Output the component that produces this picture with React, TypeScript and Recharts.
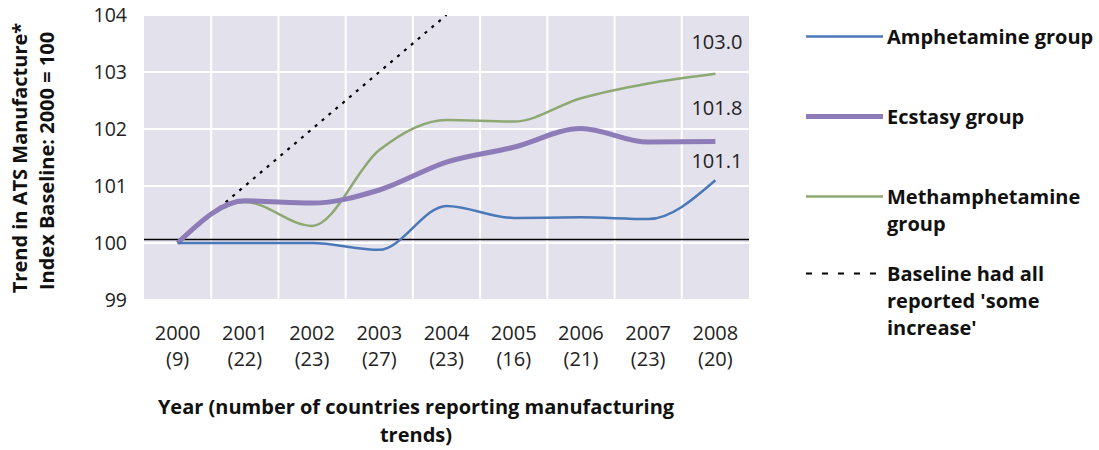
import { LineChart, Line, XAxis, YAxis, CartesianGrid, ReferenceLine, LabelList } from "recharts";

const years = ["2000", "2001", "2002", "2003", "2004", "2005", "2006", "2007", "2008"];
const countries = ["9", "22", "23", "27", "23", "16", "21", "23", "20"];
const amphetamine = [100, 100.0, 100.0, 99.88, 100.65, 100.44, 100.45, 100.42, 101.1];
const ecstasy = [100, 100.74, 100.7, 100.93, 101.42, 101.68, 102.01, 101.77, 101.78];
const methamphetamine = [100, 100.72, 100.3, 101.63, 102.16, 102.13, 102.54, 102.8, 102.97];
const baseline = [100, 101, 102, 103, 104, null, null, null, null];
const endLabels = ["101.1", "101.8", "103.0"];
const yTicks = [99, 100, 101, 102, 103, 104];

const data = years.map((y, i) => ({
  year: y,
  count: countries[i],
  amphetamine: amphetamine[i],
  ecstasy: ecstasy[i],
  methamphetamine: methamphetamine[i],
  baseline: baseline[i],
}));

const FONT = "'Open Sans', 'Noto Sans', sans-serif";
const BG = "#e3e1ec";

const legendItems = [
  { lines: ["Amphetamine group"], color: "#4a78b8", width: 2.5, dash: undefined, top: 23 },
  { lines: ["Ecstasy group"], color: "#8e7cb8", width: 5, dash: undefined, top: 103 },
  { lines: ["Methamphetamine", "group"], color: "#8ea872", width: 2.5, dash: undefined, top: 183 },
  { lines: ["Baseline had all", "reported 'some", "increase'"], color: "#000", width: 2, dash: "6 10", top: 260 },
];

function XTick(props: any) {
  const { x, y, payload, index } = props;
  return (
    <text x={x} y={y} textAnchor="middle" fontFamily={FONT} fontSize={20} fill="#222">
      <tspan x={x} dy={32}>{payload.value}</tspan>
      <tspan x={x} dy={26}>({countries[index]})</tspan>
    </text>
  );
}

function endLabel(text: string, dy: number) {
  return (props: any) => {
    const { x, y, index } = props;
    if (index !== years.length - 1) return null;
    return (
      <text x={x + 27} y={y + dy} textAnchor="end" fontFamily={FONT} fontSize={20} fill="#222">
        {text}
      </text>
    );
  };
}

function ChartLegend() {
  return (
    <div style={{ position: "absolute", left: 806, top: 0, width: 293, height: 360 }}>
      {legendItems.map((it) => (
        <div key={it.lines[0]} style={{ position: "absolute", left: 0, top: it.top, display: "flex" }}>
          <svg width={80} height={27} style={{ flex: "none" }}>
            <line x1={0} x2={77} y1={13.5} y2={13.5} stroke={it.color} strokeWidth={it.width} strokeDasharray={it.dash} />
          </svg>
          <div style={{ fontFamily: FONT, fontWeight: 700, fontSize: 20, lineHeight: "27px", color: "#111", marginLeft: 1, whiteSpace: "nowrap" }}>
            {it.lines.map((l) => (
              <div key={l}>{l}</div>
            ))}
          </div>
        </div>
      ))}
    </div>
  );
}

export default function App() {
  return (
    <div style={{ position: "absolute", left: 0, top: 0, width: 1099, height: 450, background: "#fff" }}>
      <LineChart width={1099} height={450} data={data} margin={{ top: 15, right: 350, left: 84, bottom: 90 }}>
        <CartesianGrid
          stroke="#fff"
          strokeWidth={2}
          fill={BG}
          fillOpacity={1}
          verticalCoordinatesGenerator={({ offset }: any) =>
            years.slice(1).map((_, i) => offset.left + ((i + 1) * offset.width) / years.length)
          }
        />
        <XAxis
          dataKey="year"
          axisLine={false}
          tickLine={false}
          tick={<XTick />}
          height={60}
          interval={0}
          padding={{ left: 605 / 18, right: 605 / 18 }}
        />
        <YAxis
          domain={[99, 104]}
          ticks={yTicks}
          axisLine={false}
          tickLine={false}
          tickSize={8}
          tickMargin={9}
          width={60}
          allowDataOverflow
          tick={{ fontFamily: FONT, fontSize: 19.5, fill: "#222" }}
        />
        <ReferenceLine y={100.06} stroke="#000" strokeWidth={1.5} />
        <Line dataKey="baseline" type="linear" stroke="#000" strokeWidth={2.2} strokeDasharray="3 6" dot={false} isAnimationActive={false} connectNulls={false} />
        <Line dataKey="methamphetamine" type="monotone" stroke="#8ea872" strokeWidth={2.5} dot={false} isAnimationActive={false}>
          <LabelList content={endLabel(endLabels[2], -25)} />
        </Line>
        <Line dataKey="ecstasy" type="monotone" stroke="#8e7cb8" strokeWidth={5} dot={false} isAnimationActive={false}>
          <LabelList content={endLabel(endLabels[1], -27)} />
        </Line>
        <Line dataKey="amphetamine" type="monotone" stroke="#4a78b8" strokeWidth={2.5} dot={false} isAnimationActive={false}>
          <LabelList content={endLabel(endLabels[0], -12)} />
        </Line>
        <text x={22} y={158} transform="rotate(-90 22 158)" textAnchor="middle" dominantBaseline="middle" fontFamily={FONT} fontWeight={700} fontSize={20} fill="#111">
          Trend in ATS Manufacture*
        </text>
        <text x={49} y={161} transform="rotate(-90 49 161)" textAnchor="middle" dominantBaseline="middle" fontFamily={FONT} fontWeight={700} fontSize={20} fill="#111">
          Index Baseline: 2000 = 100
        </text>
        <text x={416} y={414} textAnchor="middle" fontFamily={FONT} fontWeight={700} fontSize={20} fill="#111">
          Year (number of countries reporting manufacturing
        </text>
        <text x={416} y={442} textAnchor="middle" fontFamily={FONT} fontWeight={700} fontSize={20} fill="#111">
          trends)
        </text>
      </LineChart>
      <ChartLegend />
    </div>
  );
}
